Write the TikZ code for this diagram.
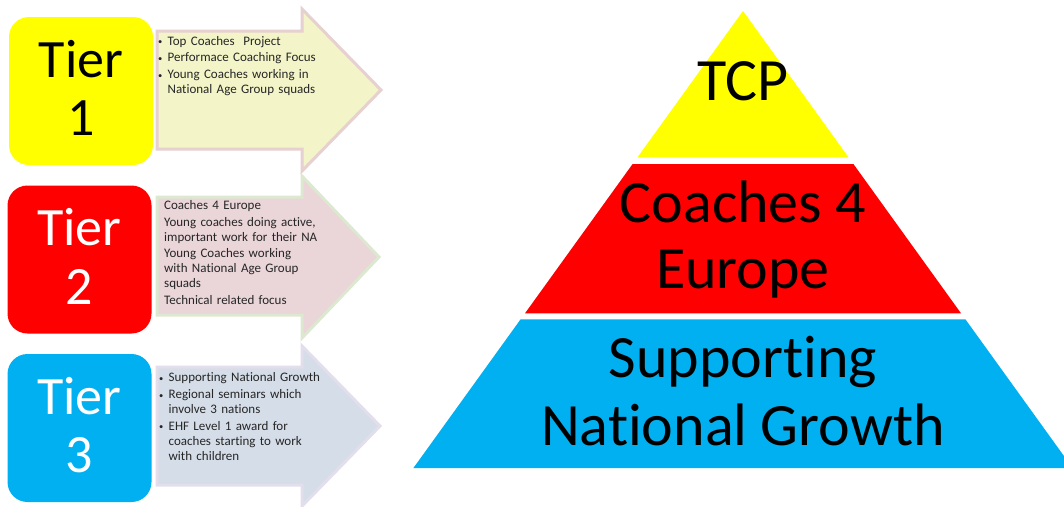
\documentclass[tikz,border=0pt]{standalone}
\usepackage{fontspec}
\setmainfont{Carlito}[Ligatures={NoCommon}]
\setlength{\parindent}{0pt}
\setlength{\parskip}{0pt}
\definecolor{tyellow}{HTML}{FFFF00}
\definecolor{tred}{HTML}{FF0000}
\definecolor{tblue}{HTML}{00B0F0}
\definecolor{aonefill}{HTML}{F3F5C8}
\definecolor{aoneline}{HTML}{E6D0D0}
\definecolor{atwofill}{HTML}{EAD5D9}
\definecolor{atwoline}{HTML}{DDE8D0}
\definecolor{athreefill}{HTML}{D5DDE8}
\definecolor{athreeline}{HTML}{E2DEEC}
\definecolor{bodytext}{HTML}{262626}
\newcommand{\tbul}{\makebox[9.5pt][l]{\raisebox{0.4pt}{\fontsize{8.5}{8.5}\selectfont\textbullet}}}
\newcommand{\tgap}{\par\vspace{1.7pt}}
\tikzset{
  tierbox/.style={rounded corners=20pt, minimum width=144pt, minimum height=148pt,
    inner sep=0pt, align=center, text depth=6pt, font=\fontsize{54}{58.3}\selectfont},
  bigarrow/.style={line width=3pt, line join=miter},
  arrowtext/.style={anchor=north west, inner sep=0pt, text width=200pt,
    text=bodytext, font=\fontsize{13}{15}\selectfont},
  pyrtext/.style={anchor=base, inner sep=0pt, font=\fontsize{60}{66}\selectfont}
}
\begin{document}
\begin{tikzpicture}[x=1pt, y=-1pt]
\useasboundingbox (0,0) rectangle (1064,506);
\clip (0,0) rectangle (1064,506);
% arrows
\filldraw[bigarrow, fill=aonefill, draw=aoneline]
  (157,31) -- (302,31) -- (302,9) -- (381,90) -- (302,171) -- (302,149) -- (157,149) -- cycle;
\filldraw[bigarrow, fill=atwofill, draw=atwoline]
  (157,197) -- (302,197) -- (302,176) -- (379,257) -- (302,338) -- (302,315) -- (157,315) -- cycle;
\filldraw[bigarrow, fill=athreefill, draw=athreeline]
  (157,367) -- (302,367) -- (302,346) -- (380,426) -- (302,506) -- (302,485) -- (157,485) -- cycle;
% tier boxes
\node[tierbox, fill=tyellow, text=black] (tier1) at (81,91) {Tier\\1};
\node[tierbox, fill=tred, text=white] (tier2) at (79.5,259.5) {Tier\\2};
\node[tierbox, fill=tblue, text=white] (tier3) at (79.5,428) {Tier\\3};
% arrow texts
\node[arrowtext] (txt1) at (158,34.5) {\strut\tbul Top Coaches\ \ Project\tgap
  \tbul Performace Coaching Focus\tgap
  \tbul Young Coaches working in\newline\hspace*{9.5pt}National Age Group squads\par};
\node[arrowtext] (txt2) at (164,198.8) {\strut Coaches 4 Europe\tgap
  Young coaches doing active,\newline important work for their NA\tgap
  Young Coaches working\newline with National Age Group\newline squads\tgap
  Technical related focus\par};
\node[arrowtext] (txt3) at (159,371.2) {\strut\tbul Supporting National Growth\tgap
  \tbul Regional seminars which\newline\hspace*{9.5pt}involve 3 nations\tgap
  \tbul EHF Level 1 award for\newline\hspace*{9.5pt}coaches starting to work\newline\hspace*{9.5pt}with children\par};
% pyramid
\fill[tyellow] (743,11) -- (848.5,157.3) -- (637.5,157.3) -- cycle;
\fill[tred] (632.6,164) -- (853.4,164) -- (961,313.3) -- (525,313.3) -- cycle;
\fill[tblue] (520.6,319.3) -- (965.4,319.3) -- (1072.6,468) -- (413.4,468) -- cycle;
\node[pyrtext] (tcp) at (743,100) {TCP};
\node[pyrtext] (c4e1) at (743,222.7) {Coaches 4};
\node[pyrtext] (c4e2) at (743,288.3) {Europe};
\node[pyrtext] (sng1) at (743,377) {Supporting};
\node[pyrtext] (sng2) at (743,445.7) {National Growth};
\end{tikzpicture}
\end{document}
